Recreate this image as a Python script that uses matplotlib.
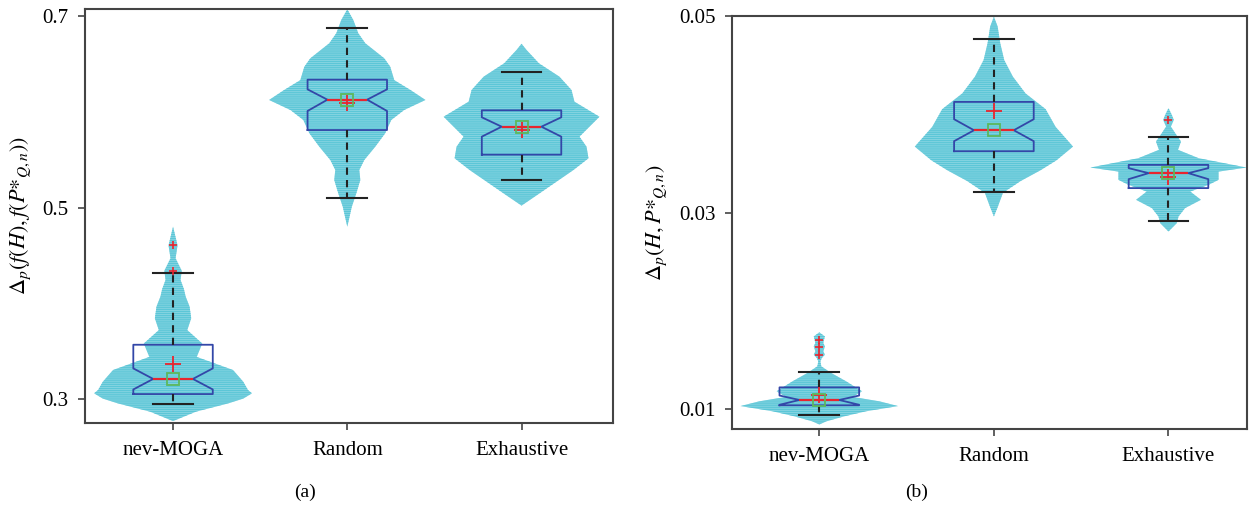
import matplotlib
matplotlib.use("Agg")
import matplotlib.pyplot as plt

plt.rcParams["font.family"] = ["Liberation Serif", "DejaVu Serif"]
plt.rcParams["mathtext.fontset"] = "stix"
plt.rcParams["hatch.linewidth"] = 0.9

# ---------------- data ----------------
methods = ["nev-MOGA", "Random", "Exhaustive"]

# panel (a): Delta_p(f(H), f(P*_{Q,n}))
a_median = [0.3210, 0.6126, 0.5844]
a_q1 = [0.3052, 0.5809, 0.5552]
a_q3 = [0.3567, 0.6335, 0.6015]
a_whislo = [0.2948, 0.5102, 0.5287]
a_whishi = [0.4313, 0.6878, 0.6418]
a_cilo = [0.3100, 0.6008, 0.5740]
a_cihi = [0.3320, 0.6234, 0.5942]
a_mean = [0.3369, 0.6088, 0.5809]
a_fliers = [[0.4605, 0.4340], [], []]

# kernel density profiles (value levels, relative density)
a_nev_levels = [0.277, 0.2868, 0.2955, 0.3005, 0.306, 0.3094, 0.318, 0.3303, 0.344,
                0.358, 0.372, 0.3843, 0.3964, 0.4069, 0.415, 0.4243, 0.434, 0.447,
                0.4605, 0.480]
a_nev_dens = [0.0, 0.29, 0.70, 0.89, 1.0, 0.95, 0.89, 0.76, 0.30,
              0.37, 0.18, 0.23, 0.21, 0.16, 0.137, 0.095, 0.11, 0.032,
              0.057, 0.0]
a_rnd_levels = [0.480, 0.5008, 0.5148, 0.5287, 0.5392, 0.5496, 0.5635, 0.5775, 0.5914,
                0.6018, 0.6123, 0.6227, 0.633, 0.647, 0.6558, 0.6715, 0.682, 0.6958, 0.707]
a_rnd_dens = [0.0, 0.057, 0.114, 0.165, 0.152, 0.215, 0.354, 0.48, 0.557,
              0.72, 0.99, 0.80, 0.595, 0.544, 0.468, 0.228, 0.139, 0.076, 0.0]
a_exh_levels = [0.502, 0.5148, 0.527, 0.5392, 0.5514, 0.5635, 0.574, 0.5844, 0.5948,
                0.6105, 0.6227, 0.6366, 0.6506, 0.6645, 0.671]
a_exh_dens = [0.0, 0.228, 0.443, 0.658, 0.848, 0.823, 0.734, 0.86, 0.987,
              0.67, 0.633, 0.48, 0.22, 0.063, 0.0]

# panel (b): Delta_p(H, P*_{Q,n})
b_median = [0.01095, 0.03836, 0.03400]
b_q1 = [0.01041, 0.03623, 0.03248]
b_q3 = [0.01223, 0.04124, 0.03484]
b_whislo = [0.00946, 0.03207, 0.02909]
b_whishi = [0.01376, 0.04763, 0.03768]
b_cilo = [0.01046, 0.03725, 0.03339]
b_cihi = [0.01140, 0.03948, 0.03451]
b_mean = [0.01150, 0.04033, 0.03365]
b_fliers = [[0.01708, 0.01633, 0.01548], [], [0.03941]]

b_nev_levels = [0.00846, 0.00878, 0.00929, 0.0098, 0.01033, 0.01081, 0.01126, 0.01183,
                0.01284, 0.0137, 0.01437, 0.01487, 0.01522, 0.01555, 0.01589, 0.0164,
                0.01674, 0.01741, 0.01782]
b_nev_dens = [0.0, 0.089, 0.316, 0.59, 0.996, 0.76, 0.42, 0.54,
              0.34, 0.148, 0.025, 0.013, 0.032, 0.07, 0.05, 0.07,
              0.05, 0.07, 0.0]
b_rnd_levels = [0.0296, 0.0306, 0.0320, 0.0332, 0.0343, 0.0353, 0.0367, 0.0387, 0.0405,
                0.0421, 0.0438, 0.0455, 0.0472, 0.0489, 0.0499]
b_rnd_dens = [0.0, 0.05, 0.114, 0.338, 0.59, 0.79, 1.0, 0.78, 0.654,
              0.40, 0.24, 0.13, 0.08, 0.047, 0.0]
b_exh_levels = [0.02807, 0.02892, 0.0296, 0.03045, 0.03129, 0.03213, 0.03281, 0.03332,
                0.03416, 0.03457, 0.03552, 0.03637, 0.03721, 0.03806, 0.03873, 0.03941,
                0.03992, 0.0406]
b_exh_dens = [0.0, 0.105, 0.127, 0.21, 0.41, 0.275, 0.506, 0.633,
              0.633, 0.987, 0.38, 0.12, 0.158, 0.085, 0.03, 0.067,
              0.042, 0.0]

a_ticks = [0.3, 0.5, 0.7]
b_ticks = [0.01, 0.03, 0.05]

# ---------------- styling ----------------
POS = [1, 2, 3]
BOX_W = 0.456
VIOLIN_HALF = 0.453
VIOLIN_FACE = "#8ad6e2"
VIOLIN_HATCH = "#5cc6d7"
BOX_BLUE = "#3347a8"
RED = "#e8252e"
GREEN = "#5cb85c"
SPINE = "#444444"


def draw_panel(ax, profiles, med, q1, q3, wlo, whi, cilo, cihi, mean, fliers):
    for p, (lev, dens) in zip(POS, profiles):
        half = [d * VIOLIN_HALF for d in dens]
        ax.fill_betweenx(lev, [p - h for h in half], [p + h for h in half],
                         facecolor=VIOLIN_FACE, edgecolor=VIOLIN_HATCH,
                         hatch="--------", linewidth=0, zorder=1)
    stats = []
    for i in range(len(POS)):
        stats.append(dict(med=med[i], q1=q1[i], q3=q3[i], whislo=wlo[i],
                          whishi=whi[i], cilo=cilo[i], cihi=cihi[i],
                          mean=mean[i], fliers=fliers[i]))
    ax.bxp(stats, positions=POS, widths=BOX_W, shownotches=True, showmeans=True,
           manage_ticks=False, patch_artist=False,
           boxprops=dict(color=BOX_BLUE, linewidth=1.3),
           medianprops=dict(color=RED, linewidth=1.6),
           whiskerprops=dict(color="#222222", linewidth=1.5, linestyle=(0, (3.5, 2.5))),
           capprops=dict(color="#222222", linewidth=1.5),
           flierprops=dict(marker="+", markeredgecolor=RED, markersize=6,
                           markeredgewidth=1.2, linestyle="none"),
           meanprops=dict(marker="+", markeredgecolor=RED, markersize=11,
                          markeredgewidth=1.3, linestyle="none"))
    ax.plot(POS, med, linestyle="none", marker="s", markerfacecolor="none",
            markeredgecolor=GREEN, markersize=8.5, markeredgewidth=1.3, zorder=4)
    ax.set_xticks(POS)
    ax.set_xticklabels(methods)
    for s in ax.spines.values():
        s.set_color(SPINE)
        s.set_linewidth(1.5)
    ax.tick_params(axis="both", direction="out", length=5, width=1.2,
                   color=SPINE, labelsize=15, top=False, right=False)
    ax.tick_params(axis="y", pad=7)
    ax.tick_params(axis="x", pad=8)


fig = plt.figure(figsize=(12.58, 5.05), dpi=100)
ax1 = fig.add_axes([0.0676, 0.1624, 0.4197, 0.8198])
ax2 = fig.add_axes([0.5819, 0.1505, 0.4094, 0.8184])

draw_panel(ax1,
           [(a_nev_levels, a_nev_dens), (a_rnd_levels, a_rnd_dens), (a_exh_levels, a_exh_dens)],
           a_median, a_q1, a_q3, a_whislo, a_whishi, a_cilo, a_cihi, a_mean, a_fliers)
ax1.set_xlim(0.495, 3.525)
ax1.set_ylim(0.275, 0.7073)
ax1.set_yticks(a_ticks)
ax1.set_yticklabels([f"{t:.1f}" for t in a_ticks])
ax1.set_ylabel(r"$\Delta_p(f(H),f(P{*}_{Q,n}))$", fontsize=16, labelpad=7)

draw_panel(ax2,
           [(b_nev_levels, b_nev_dens), (b_rnd_levels, b_rnd_dens), (b_exh_levels, b_exh_dens)],
           b_median, b_q1, b_q3, b_whislo, b_whishi, b_cilo, b_cihi, b_mean, b_fliers)
ax2.set_xlim(0.5, 3.45)
ax2.set_ylim(0.008, 0.05)
ax2.set_yticks(b_ticks)
ax2.set_yticklabels([f"{t:.2f}" for t in b_ticks])
ax2.set_ylabel(r"$\Delta_p(H,P{*}_{Q,n})$", fontsize=16, labelpad=7)

fig.text(305 / 1258, 1 - 492 / 505, "(a)", ha="center", va="center", fontsize=14)
fig.text(917 / 1258, 1 - 492 / 505, "(b)", ha="center", va="center", fontsize=14)

fig.savefig("out.png", dpi=100)
